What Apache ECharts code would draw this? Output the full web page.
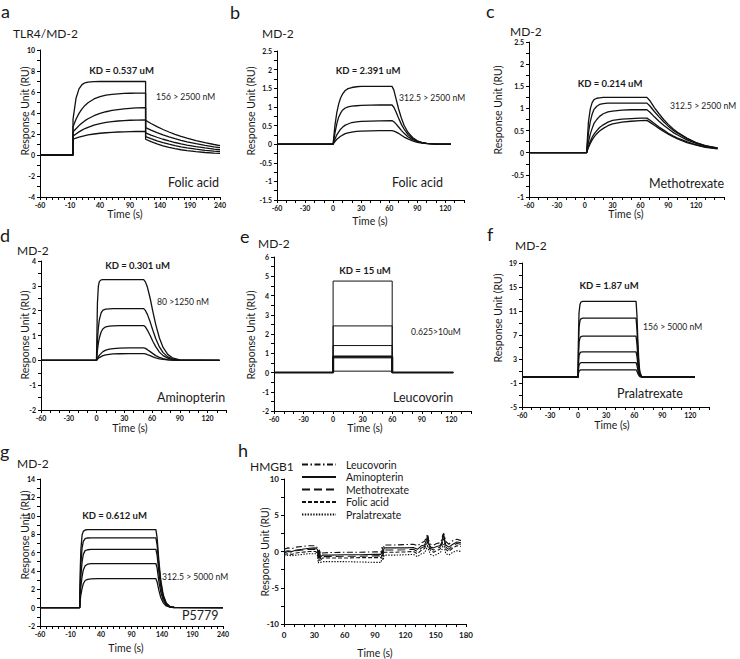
<!DOCTYPE html>
<html><head><meta charset="utf-8">
<script src="https://cdn.jsdelivr.net/npm/echarts@6/dist/echarts.min.js"></script>
<style>html,body{margin:0;padding:0;background:#fff}#c{width:740px;height:659px}</style>
</head><body><div id="c"></div>
<script>
// ---------- Panel a : TLR4/MD-2, Folic acid ----------
const aTime = [-60,-5,-5,0,5,10,15,20,30,40,50,60,70,80,90,100,116,116,125,135,145,155,165,175,185,200,215,230,240];
const aC1 = [0,0,3.4,5.4,6.3,6.7,6.88,6.95,6.99,7.0,7.0,7.0,7.0,7.0,7.0,7.0,7.0,3.3,3.0,2.7,2.43,2.19,1.97,1.78,1.6,1.37,1.17,1.0,0.9];
const aC2 = [0,0,2.7,3.41,3.96,4.39,4.72,4.98,5.34,5.55,5.7,5.78,5.83,5.86,5.88,5.89,5.9,2.6,2.37,2.13,1.92,1.73,1.55,1.4,1.26,1.08,0.92,0.78,0.7];
const aC3 = [0,0,2.2,2.5,2.8,3.05,3.27,3.45,3.74,3.96,4.12,4.24,4.33,4.4,4.45,4.48,4.5,2.1,1.89,1.69,1.5,1.34,1.19,1.06,0.95,0.79,0.67,0.56,0.5];
const aC4 = [0,0,1.8,2.0,2.2,2.37,2.52,2.64,2.84,2.99,3.1,3.18,3.24,3.28,3.31,3.33,3.35,1.75,1.55,1.35,1.18,1.03,0.89,0.78,0.68,0.55,0.45,0.37,0.32];
const aC5 = [0,0,1.5,1.6,1.7,1.78,1.85,1.91,2.0,2.07,2.12,2.16,2.19,2.21,2.23,2.24,2.25,1.5,1.27,1.05,0.87,0.73,0.6,0.5,0.42,0.32,0.24,0.18,0.15];
const aXLabels = [-60,-10,40,90,140,190,240];
const aYLabels = [-4,-2,0,2,4,6,8,10];

// ---------- Panel b : MD-2, Folic acid ----------
const bTime = [-60,0,2,4,6,8,10,13,16,20,25,30,40,50,63,65,67,70,73,76,80,85,90,95,100,110,126];
const bC1 = [0,0,0.51,0.85,1.08,1.24,1.34,1.44,1.49,1.52,1.54,1.55,1.55,1.55,1.55,1.45,1.25,0.95,0.7,0.5,0.32,0.18,0.09,0.04,0.02,0,0];
const bC2 = [0,0,0.3,0.55,0.73,0.83,0.91,0.97,1.0,1.02,1.03,1.04,1.045,1.05,1.05,0.99,0.88,0.7,0.53,0.4,0.26,0.15,0.08,0.04,0.02,0,0];
const bC3 = [0,0,0.14,0.25,0.33,0.4,0.45,0.51,0.54,0.58,0.6,0.61,0.62,0.625,0.63,0.6,0.55,0.46,0.37,0.29,0.2,0.12,0.07,0.04,0.02,0,0];
const bC4 = [0,0,0.07,0.13,0.17,0.21,0.24,0.28,0.3,0.32,0.34,0.35,0.355,0.36,0.36,0.35,0.33,0.29,0.24,0.19,0.14,0.09,0.05,0.03,0.015,0,0];
const bXLabels = [-60,-30,0,30,60,90,120];
const bYLabels = [-1.5,-1,-0.5,0,0.5,1,1.5,2,2.5];

// ---------- Panel c : MD-2, Methotrexate ----------
const cTime = [-60,2,4,6,8,10,13,16,20,25,30,40,50,60,67,70,75,80,85,90,95,100,110,120,130,143];
const cC1 = [0,0,0.69,0.99,1.13,1.2,1.23,1.24,1.25,1.25,1.25,1.25,1.25,1.25,1.25,1.18,1.02,0.88,0.75,0.64,0.54,0.46,0.33,0.23,0.16,0.11];
const cC2 = [0,0,0.44,0.7,0.87,0.98,1.05,1.09,1.11,1.12,1.12,1.12,1.12,1.12,1.12,1.06,0.93,0.81,0.7,0.6,0.51,0.44,0.32,0.22,0.155,0.105];
const cC3 = [0,0,0.24,0.42,0.55,0.66,0.75,0.82,0.88,0.92,0.94,0.96,0.97,0.97,0.97,0.92,0.81,0.71,0.62,0.54,0.46,0.4,0.29,0.21,0.15,0.1];
const cC4 = [0,0,0.14,0.26,0.35,0.42,0.5,0.57,0.63,0.69,0.73,0.76,0.77,0.78,0.78,0.74,0.66,0.58,0.51,0.44,0.38,0.33,0.25,0.18,0.13,0.09];
const cC5 = [0,0,0.12,0.21,0.29,0.35,0.43,0.49,0.55,0.61,0.65,0.69,0.71,0.725,0.73,0.69,0.62,0.55,0.48,0.42,0.36,0.31,0.23,0.17,0.12,0.085];
const cXLabels = [-60,-30,0,30,60,90,120];
const cYLabels = [-1,-0.5,0,0.5,1,1.5,2,2.5];

// ---------- Panel d : MD-2, Aminopterin ----------
const dTime = [-60,0,1,2,3,5,7,10,14,18,25,35,45,51,53,55,58,61,64,68,72,77,82,90,133];
const dC1 = [0,0,2.3,2.98,3.17,3.24,3.25,3.25,3.25,3.25,3.25,3.25,3.25,3.25,3.15,2.95,2.5,1.95,1.45,0.9,0.52,0.24,0.1,0.02,0];
const dC2 = [0,0,0.82,1.31,1.62,1.91,2.02,2.06,2.07,2.08,2.08,2.08,2.08,2.08,2.0,1.85,1.55,1.2,0.88,0.54,0.31,0.14,0.06,0.01,0];
const dC3 = [0,0,0.4,0.68,0.89,1.14,1.27,1.35,1.38,1.39,1.4,1.4,1.4,1.4,1.34,1.22,1.0,0.76,0.55,0.33,0.19,0.09,0.04,0.01,0];
const dC4 = [0,0,0.08,0.14,0.2,0.28,0.35,0.41,0.45,0.47,0.49,0.5,0.5,0.5,0.48,0.43,0.35,0.27,0.19,0.12,0.07,0.03,0.01,0,0];
const dC5 = [0,0,0.04,0.08,0.11,0.15,0.19,0.22,0.24,0.26,0.265,0.27,0.27,0.27,0.26,0.23,0.19,0.14,0.1,0.06,0.035,0.015,0.005,0,0];
const dXLabels = [-60,-30,0,30,60,90,120];
const dYLabels = [-2,-1,0,1,2,3,4];

// ---------- Panel e : MD-2, Leucovorin ----------
const eTime = [-60,0,0,60,60,122];
const eC1 = [0,0,4.75,4.75,0,0];
const eC2 = [0,0,2.42,2.42,0,0];
const eC3 = [0,0,1.4,1.4,0,0];
const eC4 = [0,0,0.82,0.82,0,0];
const eC5 = [0,0,0.76,0.76,0,0];
const eC6 = [0,0,0.07,0.07,0,0];
const eXLabels = [-60,-30,0,30,60,90,120];
const eYLabels = [-2,-1,0,1,2,3,4,5,6];

// ---------- Panel f : MD-2, Pralatrexate ----------
const fTime = [-60,0,0.5,1,2,3,5,62,63,64,65,66,68,125];
const fC1 = [0,0,7.6,10.7,12.1,12.5,12.6,12.6,10.1,5.7,2.5,0.9,0,0];
const fC2 = [0,0,5.9,8.3,9.4,9.7,9.8,9.8,7.8,4.4,2.0,0.7,0,0];
const fC3 = [0,0,4.1,5.8,6.5,6.73,6.8,6.8,5.4,3.1,1.4,0.5,0,0];
const fC4 = [0,0,2.5,3.6,4.0,4.16,4.2,4.2,3.4,1.9,0.84,0.3,0,0];
const fC5 = [0,0,1.4,2.0,2.3,2.38,2.4,2.4,1.9,1.1,0.48,0.17,0,0];
const fC6 = [0,0,0.7,1.0,1.15,1.19,1.2,1.2,0.96,0.54,0.24,0.08,0,0];
const fXLabels = [-60,-30,0,30,60,90,120];
const fYLabels = [-5,-1,3,7,11,15,19];

// ---------- Panel g : MD-2, P5779 ----------
const gTime = [-60,5,6,7,9,11,14,18,24,35,130,132,135,138,142,147,153,160,240];
const gC1 = [0,0,4.2,6.3,7.9,8.3,8.45,8.5,8.5,8.5,8.5,7.6,5.0,3.0,1.4,0.5,0.12,0.02,0];
const gC2 = [0,0,2.9,4.8,6.5,7.2,7.5,7.58,7.6,7.6,7.6,6.8,4.5,2.7,1.25,0.45,0.1,0.02,0];
const gC3 = [0,0,2.1,3.5,5.0,5.8,6.2,6.3,6.35,6.35,6.35,5.7,3.75,2.25,1.05,0.37,0.09,0.02,0];
const gC4 = [0,0,1.4,2.3,3.4,4.1,4.55,4.73,4.78,4.8,4.8,4.3,2.8,1.7,0.8,0.28,0.07,0.01,0];
const gC5 = [0,0,0.8,1.4,2.1,2.6,2.95,3.08,3.13,3.15,3.15,2.8,1.85,1.1,0.52,0.18,0.05,0.01,0];
const gXLabels = [-60,-10,40,90,140,190,240];
const gYLabels = [-2,0,2,4,6,8,10,12,14];

// ---------- Panel h : HMGB1 ----------
const hTime = [0,4,8,12,18,25,31,33,34,35,36,38,45,60,75,90,96,97,98,99,101,110,120,128,132,136,139,141,142,143,145,148,151,154,156,157,158,160,163,167,171,175];
const hNames = ['Leucovorin','Aminopterin','Methotrexate','Folic acid','Pralatrexate'];
const hLeucovorin = [0.3,0.5,0.4,0.6,0.7,0.8,0.8,0.5,-0.2,0.3,-0.3,-0.2,-0.15,-0.1,-0.1,-0.05,-0.05,0.6,0.1,0.9,0.9,0.9,0.95,1.0,0.8,1.2,1.4,2.0,2.4,1.6,1.0,0.9,1.1,1.2,1.6,2.3,2.5,1.4,1.0,1.5,1.7,1.5];
const hAminopterin = [0.0,0.1,0.0,0.2,0.3,0.45,0.5,0.3,-0.6,0.2,-0.8,-0.5,-0.5,-0.45,-0.45,-0.4,-0.4,0.2,-0.3,0.5,0.5,0.5,0.5,0.55,0.3,0.8,0.9,1.6,2.2,1.2,0.6,0.5,0.7,0.8,1.2,2.0,2.3,0.9,0.6,1.0,1.3,1.2];
const hMethotrexate = [-0.2,0.0,-0.1,0.1,0.2,0.3,0.3,0.1,-0.9,0.0,-1.0,-0.7,-0.7,-0.65,-0.65,-0.6,-0.6,0.0,-0.5,0.2,0.2,0.2,0.25,0.3,0.0,0.5,0.7,1.3,2.0,1.0,0.4,0.2,0.4,0.6,1.0,1.8,2.1,0.6,0.3,0.8,1.1,1.0];
const hFolic = [-0.4,-0.3,-0.4,-0.2,-0.1,0.0,0.0,-0.2,-1.1,-0.3,-1.2,-0.9,-0.9,-0.9,-0.85,-0.85,-0.85,-0.3,-0.7,-0.1,-0.1,-0.1,-0.05,0.0,-0.3,0.2,0.4,1.0,1.6,0.7,0.1,-0.1,0.1,0.3,0.7,1.5,1.8,0.3,0.0,0.5,0.8,0.7];
const hPralatrexate = [-0.6,-0.5,-0.6,-0.5,-0.4,-0.3,-0.3,-0.5,-1.6,-0.8,-1.5,-1.4,-1.4,-1.4,-1.45,-1.5,-1.5,-0.8,-1.2,-0.5,-0.5,-0.5,-0.45,-0.4,-0.7,-0.3,-0.2,0.4,0.9,0.2,-0.4,-0.6,-0.4,-0.2,0.1,0.8,1.0,-0.3,-0.5,-0.1,0.1,0.0];
const hXLabels = [0,30,60,90,120,150,180];
const hYLabels = [-10,-5,0,5,10];

// ================= build =================
const FONT = 'Lato, "Open Sans", "DejaVu Sans", sans-serif';
function range(a, b, s) { const r = []; for (let v = a; v <= b + 1e-9; v += s) r.push(Math.round(v * 1000) / 1000); return r; }
function zip(t, v) { return t.map((x, i) => [x, v[i]]); }

const panels = [
  { grid: [40, 50, 180, 147], x: [-60, 240], xl: aXLabels, xs: 10, y: [-4, 10], yl: aYLabels, ys: 1, t: aTime, curves: [aC1, aC2, aC3, aC4, aC5] },
  { grid: [277, 51, 187, 149], x: [-60, 140], xl: bXLabels, xs: 10, y: [-1.5, 2.5], yl: bYLabels, ys: 0.25, t: bTime, curves: [bC1, bC2, bC3, bC4] },
  { grid: [529, 42, 195, 155], x: [-60, 150], xl: cXLabels, xs: 10, y: [-1, 2.5], yl: cYLabels, ys: 0.25, t: cTime, curves: [cC1, cC2, cC3, cC4, cC5] },
  { grid: [41, 261, 185, 149], x: [-60, 140], xl: dXLabels, xs: 10, y: [-2, 4], yl: dYLabels, ys: 0.5, t: dTime, curves: [dC1, dC2, dC3, dC4, dC5] },
  { grid: [274, 257, 197, 154], x: [-60, 140], xl: eXLabels, xs: 10, y: [-2, 6], yl: eYLabels, ys: 0.5, t: eTime, curves: [eC1, eC2, eC3, eC4, eC5, eC6], widths: [1, 1, 1, 2.2, 1, 1] },
  { grid: [522, 263, 187, 144], x: [-60, 140], xl: fXLabels, xs: 10, y: [-5, 19], yl: fYLabels, ys: 2, t: fTime, curves: [fC1, fC2, fC3, fC4, fC5, fC6] },
  { grid: [40, 479, 183, 147], x: [-60, 240], xl: gXLabels, xs: 10, y: [-2, 14], yl: gYLabels, ys: 1, t: gTime, curves: [gC1, gC2, gC3, gC4, gC5] },
  { grid: [284, 479, 182, 145], x: [0, 180], xl: hXLabels, xs: 10, y: [-10, 10], yl: hYLabels, ys: 2.5, t: hTime, big: true,
    curves: [hLeucovorin, hAminopterin, hMethotrexate, hFolic, hPralatrexate],
    names: hNames, dashes: [[6, 2.5, 1.5, 2.5], 'solid', [8, 4], [4, 2], [1.4, 1.4]] }
];

const grids = [], xAxes = [], yAxes = [], series = [];
panels.forEach((p, i) => {
  grids.push({ left: p.grid[0], top: p.grid[1], width: p.grid[2], height: p.grid[3] });
  const lab = { fontSize: p.big ? 8 : 7, fontWeight: 'bold', color: '#111', fontFamily: FONT };
  xAxes.push({
    type: 'value', gridIndex: i, min: p.x[0], max: p.x[1],
    axisLine: { show: true, onZero: false, lineStyle: { color: '#000', width: 1 } },
    axisTick: { show: true, customValues: range(p.x[0], p.x[1], p.xs), length: 3, lineStyle: { color: '#000', width: 1 } },
    axisLabel: Object.assign({ customValues: p.xl, margin: p.big ? 7 : 4 }, lab),
    splitLine: { show: false }
  });
  yAxes.push({
    type: 'value', gridIndex: i, min: p.y[0], max: p.y[1],
    axisLine: { show: true, onZero: false, lineStyle: { color: '#000', width: 1 } },
    axisTick: { show: true, customValues: range(p.y[0], p.y[1], p.ys), length: 3, lineStyle: { color: '#000', width: 1 } },
    axisLabel: Object.assign({ customValues: p.yl, margin: 5 }, lab),
    splitLine: { show: false }
  });
  p.curves.forEach((c, k) => {
    series.push({
      type: 'line', name: p.names ? p.names[k] : undefined,
      xAxisIndex: i, yAxisIndex: i, data: zip(p.t, c),
      symbol: 'none', silent: true, animation: false,
      lineStyle: { color: '#111', width: p.widths ? p.widths[k] : (p.big ? 1.1 : 1.3), type: p.dashes ? p.dashes[k] : 'solid' },
      itemStyle: { color: '#111' }
    });
  });
});

function T(text, x, y, size, opt) {
  opt = opt || {};
  return {
    type: 'text', x: x, y: y, rotation: opt.rot || 0, silent: true,
    style: { text: text, fontSize: size, fontFamily: FONT, fontWeight: opt.bold ? 'bold' : 'normal',
      fill: opt.color || '#1a1a1a', align: opt.align || 'left', verticalAlign: 'middle' }
  };
}
const R = Math.PI / 2;
const texts = [
  // panel letters
  T('a', 1, 11, 18), T('b', 230, 12, 18), T('c', 486, 11, 18), T('d', 0, 235, 18),
  T('e', 240, 236, 18), T('f', 487, 234, 18), T('g', 0, 451, 18), T('h', 238, 450, 18),
  // receptor titles
  T('TLR4/MD-2', 13, 33, 12), T('MD-2', 262, 33, 12), T('MD-2', 510, 31, 12), T('MD-2', 17, 250, 12),
  T('MD-2', 258, 243, 12), T('MD-2', 515, 245, 12), T('MD-2', 17, 463, 12), T('HMGB1', 250, 466, 12),
  // KD
  T('KD = 0.537 uM', 121.5, 70, 9.5, { bold: 1, align: 'center' }),
  T('KD = 2.391 uM', 368, 70, 9.5, { bold: 1, align: 'center' }),
  T('KD = 0.214 uM', 610, 83, 9.5, { bold: 1, align: 'center' }),
  T('KD = 0.301 uM', 137.5, 265, 9.5, { bold: 1, align: 'center' }),
  T('KD = 15 uM', 365, 270, 9.5, { bold: 1, align: 'center' }),
  T('KD = 1.87 uM', 609, 285, 9.5, { bold: 1, align: 'center' }),
  T('KD = 0.612 uM', 114.5, 515, 9.5, { bold: 1, align: 'center' }),
  // concentrations
  T('156 > 2500 nM', 156, 97, 8.6), T('312.5 > 2500 nM', 399, 98, 8.6), T('312.5 > 2500 nM', 670, 106, 8.6),
  T('80 >1250 nM', 157, 302, 8.6), T('0.625>10uM', 411, 332, 8.6), T('156 > 5000 nM', 643, 327, 8.6),
  T('312.5 > 5000 nM', 162, 577, 8.6),
  // compound names
  T('Folic acid', 168, 182, 12.5), T('Folic acid', 392, 182, 12.5), T('Methotrexate', 649, 183, 12.5),
  T('Aminopterin', 157, 397, 12.5), T('Leucovorin', 393, 397, 12.5), T('Pralatrexate', 617, 393, 12.5),
  T('P5779', 182, 615, 12.5),
  // y titles
  T('Response Unit (RU)', 25, 111, 10.5, { rot: R, align: 'center' }),
  T('Response Unit (RU)', 251, 111, 10.5, { rot: R, align: 'center' }),
  T('Response Unit (RU)', 498, 110, 10.5, { rot: R, align: 'center' }),
  T('Response Unit (RU)', 25, 335, 10.5, { rot: R, align: 'center' }),
  T('Response Unit (RU)', 251, 335, 10.5, { rot: R, align: 'center' }),
  T('Response Unit (RU)', 498, 318, 10.5, { rot: R, align: 'center' }),
  T('Response Unit (RU)', 25, 535, 10.5, { rot: R, align: 'center' }),
  T('Response Unit (RU)', 265, 552, 10.5, { rot: R, align: 'center' }),
  // x titles
  T('Time (s)', 125, 214, 10.5, { align: 'center' }), T('Time (s)', 370, 221, 10.5, { align: 'center' }),
  T('Time (s)', 626, 214, 10.5, { align: 'center' }), T('Time (s)', 130, 428, 10.5, { align: 'center' }),
  T('Time (s)', 365, 428, 10.5, { align: 'center' }), T('Time (s)', 612, 425, 10.5, { align: 'center' }),
  T('Time (s)', 126, 648, 10.5, { align: 'center' }), T('Time (s)', 375, 653, 10.5, { align: 'center' })
];

const chart = echarts.init(document.getElementById('c'), null, { renderer: 'svg', width: 740, height: 659 });
chart.setOption({
  animation: false,
  backgroundColor: '#fff',
  grid: grids, xAxis: xAxes, yAxis: yAxes, series: series,
  legend: {
    data: hNames, orient: 'vertical', left: 301, top: 459, itemWidth: 34, itemHeight: 12, itemGap: 1.5,
    selectedMode: false, padding: 0,
    itemStyle: { opacity: 0 },
    textStyle: { fontSize: 10.5, fontFamily: FONT, color: '#1a1a1a', padding: [0, 0, 0, 5] }
  },
  graphic: texts
});
</script></body></html>
